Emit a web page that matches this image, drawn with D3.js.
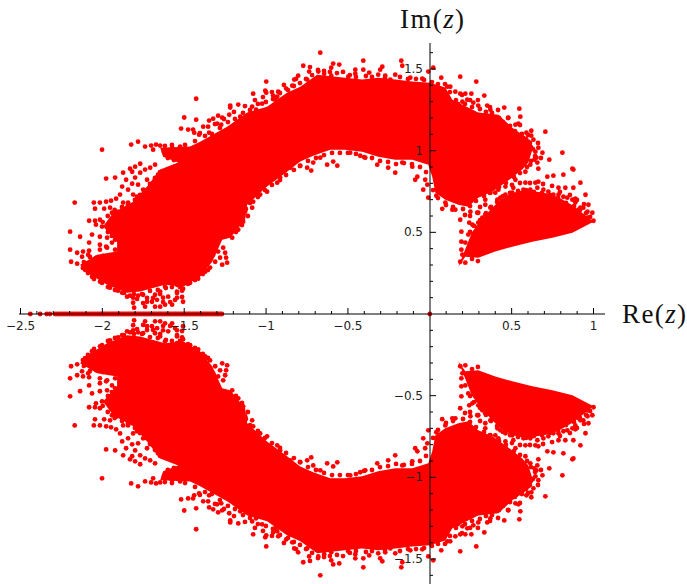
<!DOCTYPE html>
<html>
<head>
<meta charset="utf-8">
<script src="https://cdn.jsdelivr.net/npm/d3@7"></script>
<style>
  html, body { margin: 0; padding: 0; background: #fff; }
  svg { display: block; }
  .axis text { font-family: "DejaVu Sans", sans-serif; font-size: 12px; fill: #222; }
  .axis-title { font-family: "Liberation Serif", serif; font-size: 27px; fill: #111; letter-spacing: 1.4px; }
</style>
</head>
<body>
<div id="chart"></div>
<script>
// Values as [re, im], upper half plane only.
// The set is symmetric about the real axis, so the lower half is drawn as the conjugates.

// Where the dots saturate into solid red, only the outline of the solid region is kept
const arcOutline = [
  [0.003, 1.416], [0.095, 1.386], [0.138, 1.312], [0.296, 1.233], [0.419, 1.220], [0.504, 1.141],
  [0.584, 1.086], [0.633, 1.025], [0.602, 0.927], [0.565, 0.884], [0.504, 0.835], [0.443, 0.792],
  [0.382, 0.749], [0.296, 0.712], [0.235, 0.657], [0.174, 0.669], [0.095, 0.700], [0.034, 0.743],
  [0.015, 0.841], [-0.009, 0.914], [-0.107, 0.945], [-0.211, 0.945], [-0.315, 0.963], [-0.413, 0.994],
  [-0.517, 1.006], [-0.608, 1.006], [-0.712, 0.969], [-0.791, 0.933], [-0.872, 0.871], [-0.994, 0.780],
  [-1.115, 0.669], [-1.128, 0.577], [-1.219, 0.467], [-1.268, 0.455], [-1.329, 0.320], [-1.403, 0.228],
  [-1.507, 0.167], [-1.617, 0.179], [-1.769, 0.137], [-1.849, 0.130], [-1.971, 0.179], [-2.093, 0.253],
  [-2.136, 0.302], [-2.032, 0.363], [-1.910, 0.382], [-1.910, 0.443], [-1.996, 0.535], [-1.934, 0.620],
  [-1.812, 0.688], [-1.727, 0.780], [-1.647, 0.884], [-1.537, 0.927], [-1.629, 0.963], [-1.647, 1.018],
  [-1.464, 1.025], [-1.403, 1.055], [-1.238, 1.147], [-1.115, 1.233], [-0.994, 1.269], [-0.872, 1.355],
  [-0.791, 1.392], [-0.688, 1.465], [-0.517, 1.447], [-0.413, 1.435], [-0.315, 1.447], [-0.211, 1.435],
  [-0.107, 1.423],
];

const triangleOutline = [
  [0.174, 0.290], [0.217, 0.351], [0.296, 0.345], [0.400, 0.382], [0.504, 0.412], [0.626, 0.443],
  [0.749, 0.467], [0.871, 0.498], [1.000, 0.565], [0.948, 0.606], [0.869, 0.667], [0.783, 0.716],
  [0.704, 0.741], [0.582, 0.759], [0.502, 0.741], [0.429, 0.698], [0.368, 0.637], [0.307, 0.563],
  [0.258, 0.502], [0.227, 0.422],
];

const topFringe = [
  [-0.669, 1.600], [-0.590, 1.533], [-0.553, 1.527], [-0.773, 1.520], [-0.602, 1.508], [-0.737, 1.484],
  [-0.681, 1.484], [-0.645, 1.471], [-0.602, 1.459], [-0.804, 1.459], [-0.828, 1.435], [-0.999, 1.423],
  [-0.840, 1.398], [-0.877, 1.380], [-1.005, 1.367], [-1.079, 1.349], [-0.999, 1.355], [-1.427, 1.318],
  [-0.957, 1.337], [-0.926, 1.361], [-0.932, 1.330], [-1.219, 1.276], [-1.170, 1.282], [-1.219, 1.264],
  [-1.085, 1.270], [-1.024, 1.288], [-1.500, 1.203], [-1.427, 1.190], [-1.293, 1.214], [-1.268, 1.202],
  [-1.323, 1.196], [-1.348, 1.184], [-1.225, 1.220], [-1.299, 1.165], [-1.274, 1.159], [-1.519, 1.135],
  [-1.476, 1.129], [-1.446, 1.129], [-1.439, 1.110], [-1.384, 1.147], [-1.354, 1.147], [-1.409, 1.098],
  [-1.348, 1.110], [-2.002, 1.006], [-1.824, 1.037], [-1.782, 1.055], [-1.739, 1.025], [-1.702, 1.031],
  [-1.672, 1.037], [-1.690, 1.006], [-1.769, 0.920], [-1.800, 0.902], [-1.831, 0.890], [-1.708, 0.896],
  [-1.647, 1.031], [-1.574, 1.018], [-1.525, 1.025], [-1.158, 1.208], [-1.061, 1.251], [-0.944, 1.312],
  [-0.749, 1.435], [-0.406, 1.551], [-0.174, 1.551], [-0.168, 1.520], [-0.290, 1.514], [-0.303, 1.496],
  [-0.455, 1.496], [-0.406, 1.496], [-0.455, 1.471], [-0.370, 1.478], [-0.211, 1.465], [-0.272, 1.459],
  [-0.009, 1.484], [0.021, 1.508], [-0.119, 1.447], [-0.046, 1.441], [-0.498, 1.453], [-0.315, 1.465],
  [-0.241, 1.435],
];

const topBelt = [
  [-1.618, 1.029], [-1.575, 1.035], [-1.495, 1.035], [-1.434, 1.059], [-1.373, 1.090], [-1.331, 1.102],
  [-1.282, 1.139], [-1.233, 1.175], [-1.190, 1.194], [-1.141, 1.231], [-1.098, 1.249], [-1.050, 1.286],
  [-1.001, 1.298], [-0.958, 1.316], [-0.915, 1.353], [-0.866, 1.371], [-0.830, 1.396], [-0.793, 1.414],
  [-0.756, 1.439], [-0.719, 1.463], [-0.683, 1.494], [-0.646, 1.488], [-0.610, 1.482], [-0.567, 1.475],
  [-0.530, 1.482], [-0.488, 1.463], [-0.451, 1.451], [-0.390, 1.457], [-0.353, 1.451], [-0.274, 1.445],
  [-0.182, 1.451], [-0.133, 1.439], [-0.084, 1.439], [-0.035, 1.433], [-1.404, 1.108], [-1.312, 1.163],
  [-1.257, 1.194], [-1.196, 1.237], [-1.129, 1.273], [-1.068, 1.310], [-1.019, 1.328], [-0.964, 1.359],
  [-0.891, 1.402], [-0.817, 1.439], [-0.732, 1.512], [-1.624, 0.992], [-1.600, 0.955], [-1.563, 0.943],
];

const rightFringe = [
  [0.070, 1.447], [0.107, 1.392], [0.125, 1.392], [0.186, 1.453], [0.284, 1.423], [0.333, 1.337],
  [0.186, 1.349], [0.217, 1.349], [0.254, 1.349], [0.229, 1.312], [0.266, 1.294], [0.296, 1.276],
  [0.351, 1.276], [0.455, 1.264], [0.547, 1.257], [0.553, 1.208], [0.541, 1.165], [0.620, 1.122],
  [0.706, 1.116], [0.620, 1.092], [0.602, 1.055], [0.645, 0.994], [0.688, 0.988], [0.810, 0.988],
  [0.730, 0.945], [0.651, 0.957], [0.657, 0.927], [0.871, 0.890], [0.663, 0.890], [0.614, 0.914],
  [0.156, 1.361], [0.199, 1.300], [0.370, 1.251], [0.480, 1.202], [0.523, 1.159], [0.590, 1.110],
  [0.633, 1.067], [0.663, 1.018], [0.639, 0.945], [0.584, 0.871], [0.523, 0.822], [0.462, 0.780],
  [0.400, 0.743], [0.339, 0.700], [0.339, 0.669], [0.296, 0.620], [0.419, 0.761], [0.248, 0.626],
  [0.462, 0.730],
];

const rightBelt = [
  [0.013, 1.420], [0.050, 1.408], [0.093, 1.408], [0.123, 1.359], [0.160, 1.310], [0.172, 1.286],
  [0.215, 1.286], [0.258, 1.267], [0.306, 1.255], [0.343, 1.237], [0.380, 1.231], [0.423, 1.200],
  [0.447, 1.175], [0.490, 1.151], [0.520, 1.120], [0.563, 1.102], [0.588, 1.071], [0.612, 1.047],
  [0.630, 1.010], [0.643, 0.967], [0.618, 0.937], [0.594, 0.900], [0.551, 0.863], [0.514, 0.839],
  [0.465, 0.802], [0.423, 0.778], [0.368, 0.741], [0.331, 0.722], [0.282, 0.692], [0.246, 0.661],
  [0.203, 0.643], [0.142, 0.655], [0.099, 0.667], [0.050, 0.710], [0.020, 0.759], [0.197, 1.341],
  [0.246, 1.310], [0.294, 1.310], [0.368, 1.267], [0.417, 1.249], [0.478, 1.200], [0.551, 1.157],
  [0.600, 1.096], [0.661, 1.047], [0.679, 0.955],
];

const innerFringe = [
  [-0.425, 0.969], [-0.486, 0.988], [-0.394, 0.957], [-0.321, 0.914], [-0.254, 0.896], [-0.168, 0.927],
  [-0.107, 0.902], [-0.211, 0.865], [-0.089, 0.822], [-0.028, 0.822], [-0.040, 0.761], [-0.009, 0.712],
  [-0.076, 0.841], [-0.015, 0.792], [0.076, 0.644], [0.138, 0.639], [0.156, 0.639], [0.095, 0.682],
  [0.040, 0.724], [-0.590, 0.933], [-0.565, 0.908], [-0.627, 0.914], [-0.712, 0.927], [-0.749, 0.896],
  [-0.853, 0.896], [-0.724, 0.878], [-0.932, 0.804], [-0.994, 0.749], [-1.079, 0.688], [-1.128, 0.626],
  [-1.140, 0.565], [-1.170, 0.516], [-1.207, 0.467], [-0.669, 0.957], [-0.791, 0.908], [-0.914, 0.835],
  [-1.036, 0.731], [-1.085, 0.651],
];

const innerBelt = [
  [-0.023, 0.869], [-0.060, 0.900], [-0.109, 0.918], [-0.158, 0.924], [-0.206, 0.918], [-0.255, 0.931],
  [-0.304, 0.937], [-0.353, 0.955], [-0.402, 0.961], [-0.451, 0.980], [-0.500, 0.986], [-0.549, 0.986],
  [-0.597, 0.986], [-0.646, 0.973], [-0.695, 0.955], [-0.744, 0.937], [-0.793, 0.906], [-0.830, 0.882],
  [-0.878, 0.851], [-0.915, 0.820], [-0.964, 0.790], [-1.007, 0.759], [-1.050, 0.716], [-1.098, 0.680],
  [-1.123, 0.643], [-1.111, 0.600], [-1.147, 0.545], [-1.184, 0.502],
];

const triangleFringe = [
  [0.186, 0.577], [0.241, 0.559], [0.193, 0.504], [0.235, 0.486], [0.193, 0.443], [0.193, 0.394],
  [0.217, 0.437], [0.290, 0.620], [0.296, 0.559], [0.290, 0.528], [0.339, 0.608], [0.382, 0.620],
  [0.370, 0.743], [0.431, 0.712], [0.510, 0.773], [0.480, 0.712], [0.584, 0.804], [0.645, 0.804],
  [0.663, 0.810], [0.718, 0.841], [0.755, 0.847], [0.816, 0.853], [0.877, 0.884], [0.786, 0.773],
  [0.828, 0.773], [0.877, 0.773], [0.920, 0.804], [0.951, 0.730], [0.889, 0.706], [0.889, 0.682],
  [0.969, 0.669], [0.938, 0.651], [0.993, 0.620], [0.963, 0.590], [1.000, 0.571], [0.786, 0.730],
  [0.724, 0.749], [0.840, 0.712], [0.908, 0.639], [0.657, 0.773], [0.614, 0.761], [0.541, 0.743],
  [0.504, 0.743], [0.449, 0.688], [0.431, 0.639], [0.260, 0.547], [0.321, 0.590], [0.370, 0.651],
  [0.413, 0.700], [0.462, 0.657], [0.523, 0.718], [0.572, 0.761], [0.694, 0.761], [0.755, 0.730],
  [0.816, 0.718], [0.871, 0.700], [0.920, 0.651], [0.963, 0.626], [0.217, 0.314], [0.186, 0.320],
  [0.199, 0.363], [0.248, 0.406], [0.272, 0.443], [0.309, 0.504], [0.358, 0.577],
];

const triangleBelt = [
  [0.246, 0.502], [0.270, 0.539], [0.307, 0.575], [0.343, 0.618], [0.374, 0.655], [0.411, 0.686],
  [0.447, 0.722], [0.490, 0.741], [0.539, 0.753], [0.588, 0.759], [0.636, 0.747], [0.685, 0.741],
  [0.734, 0.729], [0.783, 0.710], [0.832, 0.680], [0.881, 0.661], [0.918, 0.637], [0.954, 0.618],
  [0.979, 0.594], [0.502, 0.790], [0.551, 0.802], [0.612, 0.802], [0.692, 0.796], [0.747, 0.784],
  [0.795, 0.747], [0.856, 0.729], [0.899, 0.698], [0.942, 0.673], [0.294, 0.324], [0.258, 0.337],
  [0.246, 0.600], [0.215, 0.606], [0.307, 0.655],
];

const leftFringe = [
  [-2.169, 0.682], [-2.052, 0.682], [-2.015, 0.682], [-1.977, 0.688], [-1.947, 0.694], [-1.916, 0.706],
  [-1.892, 0.731], [-1.879, 0.780], [-1.977, 0.829], [-1.922, 0.835], [-1.873, 0.865], [-1.818, 0.798],
  [-1.818, 0.871], [-1.769, 0.865], [-2.045, 0.645], [-1.989, 0.645], [-1.953, 0.651], [-2.081, 0.571],
  [-2.045, 0.571], [-2.015, 0.577], [-2.039, 0.547], [-2.002, 0.535], [-2.197, 0.504], [-2.136, 0.473],
  [-2.063, 0.486], [-2.015, 0.473], [-1.971, 0.467], [-2.081, 0.437], [-2.015, 0.424], [-1.977, 0.412],
  [-1.941, 0.437], [-1.922, 0.455], [-2.197, 0.394], [-2.154, 0.375], [-2.118, 0.382], [-2.081, 0.388],
  [-2.015, 0.394], [-2.124, 0.351], [-2.087, 0.363], [-2.191, 0.320], [-2.154, 0.308], [-1.971, 0.406],
  [-1.922, 0.394], [-1.873, 0.682], [-1.843, 0.682], [-1.788, 0.718], [-1.751, 0.761], [-1.782, 0.792],
  [-1.727, 0.822], [-1.873, 0.626], [-1.910, 0.626], [-1.941, 0.620], [-1.739, 0.884], [-1.660, 0.853],
  [-1.678, 0.914], [-1.617, 0.871], [-1.843, 0.761], [-1.812, 0.731], [-1.855, 0.822], [-1.800, 0.835],
  [-2.106, 0.271], [-2.063, 0.228], [-2.014, 0.198], [-1.953, 0.161], [-1.904, 0.143], [-1.831, 0.112],
  [-1.879, 0.130],
];

const leftBelt = [
  [-1.998, 0.563], [-1.967, 0.600], [-1.925, 0.637], [-1.880, 0.655], [-1.844, 0.667], [-1.801, 0.698],
  [-1.770, 0.729], [-1.740, 0.759], [-1.709, 0.796], [-1.679, 0.833], [-1.648, 0.869], [-1.966, 0.502],
  [-1.942, 0.478], [-1.906, 0.465], [-2.113, 0.318], [-2.076, 0.349], [-2.039, 0.343], [-1.996, 0.355],
  [-1.954, 0.361], [-1.917, 0.361], [-2.119, 0.282], [-2.088, 0.251], [-2.051, 0.214], [-2.002, 0.190],
  [-1.966, 0.165], [-1.923, 0.147], [-1.868, 0.129], [-1.807, 0.122], [-1.758, 0.122], [-1.709, 0.141],
  [-1.661, 0.147], [-1.612, 0.159], [-1.575, 0.165], [-1.526, 0.165], [-1.477, 0.184], [-1.434, 0.208],
  [-1.386, 0.245], [-1.355, 0.269],
];

const fingerPoints = [
  [-1.250, 0.375], [-1.244, 0.345], [-1.238, 0.314], [-1.262, 0.406], [-1.293, 0.382], [-1.281, 0.345],
  [-1.268, 0.302], [-1.323, 0.363], [-1.311, 0.320], [-1.342, 0.284], [-1.372, 0.259], [-1.415, 0.216],
  [-1.464, 0.191], [-1.507, 0.155],
];

const stalkPoints = [
  [-1.812, 0.100], [-1.812, 0.069], [-1.806, 0.039], [-1.849, 0.106], [-1.782, 0.112], [-1.751, 0.118],
  [-1.727, 0.075], [-1.739, 0.045], [-1.678, 0.045], [-1.647, 0.045], [-1.617, 0.057], [-1.574, 0.057],
  [-1.507, 0.075], [-1.544, 0.100], [-1.513, 0.143], [-1.544, 0.137], [-1.647, 0.137], [-1.617, 0.167],
  [-1.678, 0.118], [-1.629, 0.100], [-1.666, 0.087], [-1.697, 0.075], [-1.598, 0.106], [-1.544, 0.179],
  [-1.727, 0.098], [-1.690, 0.098], [-1.586, 0.073], [-1.629, 0.073], [-1.544, 0.129], [-1.513, 0.104],
  [-1.556, 0.086], [-1.647, 0.122], [-1.751, 0.067], [-1.788, 0.092],
];

// Real roots sit on the axis itself
const realRootsRe = [
  -2.44, -2.38, -2.34, -2.32, -2.289, -2.276, -2.264, -2.252, -2.24, -2.228, -2.216, -2.203, -2.191, -2.179,
  -2.167, -2.155, -2.142, -2.13, -2.118, -2.105, -2.093, -2.081, -2.069, -2.057, -2.045, -2.032, -2.02, -2.01,
  -2.0, -1.99, -1.98, -1.97, -1.96, -1.95, -1.94, -1.93, -1.92, -1.91, -1.9, -1.89, -1.88, -1.87, -1.86,
  -1.85, -1.84, -1.83, -1.82, -1.81, -1.8, -1.79, -1.78, -1.77, -1.76, -1.75, -1.74, -1.73, -1.72, -1.71,
  -1.7, -1.69, -1.68, -1.67, -1.66, -1.65, -1.64, -1.63, -1.62, -1.61, -1.6, -1.59, -1.58, -1.57, -1.56,
  -1.55, -1.54, -1.53, -1.52, -1.51, -1.5, -1.49, -1.48, -1.47, -1.46, -1.45, -1.44, -1.43, -1.42, -1.41,
  -1.4, -1.39, -1.38, -1.37, -1.36, -1.35, -1.34, -1.33, -1.32, -1.31, -1.3, -1.29, -1.28, -1.27, 0,
];

const xTicks = [-2.5, -2, -1.5, -1, -0.5, 0.5, 1];
const xMinorTicks = [-2.4, -2.3, -2.2, -2.1, -1.9, -1.8, -1.7, -1.6, -1.4, -1.3, -1.2, -1.1, -0.9, -0.8,
  -0.7, -0.6, -0.4, -0.3, -0.2, -0.1, 0.1, 0.2, 0.3, 0.4, 0.6, 0.7, 0.8, 0.9];
const yTicks = [-1.5, -1, -0.5, 0.5, 1, 1.5];
const yMinorTicks = [-1.6, -1.4, -1.3, -1.2, -1.1, -0.9, -0.8, -0.7, -0.6, -0.4, -0.3, -0.2, -0.1,
  0.1, 0.2, 0.3, 0.4, 0.6, 0.7, 0.8, 0.9, 1.1, 1.2, 1.3, 1.4, 1.6];

const width = 687;
const height = 584;

const xScale = d3.scaleLinear().domain([-2.5, 1]).range([20.5, 593.5]);
const yScale = d3.scaleLinear().domain([-1.5, 1.5]).range([559, 69]);

const conjugate = (d) => [d[0], -d[1]];

const svg = d3.select('#chart').append('svg')
  .attr('width', width)
  .attr('height', height);

// Solid regions
const outline = d3.line()
  .x((d) => xScale(d[0]))
  .y((d) => yScale(d[1]))
  .curve(d3.curveLinearClosed);

const solids = [arcOutline, triangleOutline];

svg.append('g')
  .selectAll('path')
  .data(solids.concat(solids.map((s) => s.map(conjugate))))
  .join('path')
  .attr('d', outline)
  .attr('fill', '#ff0000');

// Separate dots
const upperPoints = [...topFringe, ...topBelt, ...rightFringe, ...rightBelt, ...innerFringe, ...innerBelt,
  ...triangleFringe, ...triangleBelt, ...leftFringe, ...leftBelt, ...fingerPoints, ...stalkPoints];
const points = [...upperPoints, ...upperPoints.map(conjugate), ...realRootsRe.map((re) => [re, 0])];

svg.append('g')
  .selectAll('circle')
  .data(points)
  .join('circle')
  .attr('cx', (d) => xScale(d[0]))
  .attr('cy', (d) => yScale(d[1]))
  .attr('r', 2.4)
  .attr('fill', '#ff0000');

// Axes sit on top of the dots, ticks point inward and labels stay outside
const xAxisY = yScale(0);
const yAxisX = 430;

const xAxis = d3.axisBottom(xScale)
  .tickValues(xTicks)
  .tickFormat(d3.format('~g'))
  .tickSizeInner(-6)
  .tickSizeOuter(0)
  .tickPadding(7)
  .offset(0);

const xMinorAxis = d3.axisBottom(xScale)
  .tickValues(xMinorTicks)
  .tickFormat('')
  .tickSizeInner(-3)
  .tickSizeOuter(0)
  .offset(0);

const yAxis = d3.axisLeft(yScale)
  .tickValues(yTicks)
  .tickFormat(d3.format('~g'))
  .tickSizeInner(-6)
  .tickSizeOuter(0)
  .tickPadding(7)
  .offset(0);

const yMinorAxis = d3.axisLeft(yScale)
  .tickValues(yMinorTicks)
  .tickFormat('')
  .tickSizeInner(-3)
  .tickSizeOuter(0)
  .offset(0);

svg.append('g').attr('class', 'axis').attr('transform', `translate(0,${xAxisY})`).call(xMinorAxis)
  .call((g) => g.select('.domain').remove());

const xAxisG = svg.append('g').attr('class', 'axis').attr('transform', `translate(0,${xAxisY})`).call(xAxis);
xAxisG.select('.domain').attr('d', 'M19,0H605');

svg.append('g').attr('class', 'axis').attr('transform', `translate(${yAxisX},0)`).call(yMinorAxis)
  .call((g) => g.select('.domain').remove());

const yAxisG = svg.append('g').attr('class', 'axis').attr('transform', `translate(${yAxisX},0)`).call(yAxis);
yAxisG.select('.domain').attr('d', 'M0,43V584');

// Axis titles, z in italics as in math mode
const title = (x, y, name) => {
  const t = svg.append('text').attr('class', 'axis-title').attr('x', x).attr('y', y);
  t.append('tspan').text(`${name}(`);
  t.append('tspan').attr('font-style', 'italic').text('z');
  t.append('tspan').text(')');
};

title(400, 28, 'Im');
title(622, 323, 'Re');
</script>
</body>
</html>
